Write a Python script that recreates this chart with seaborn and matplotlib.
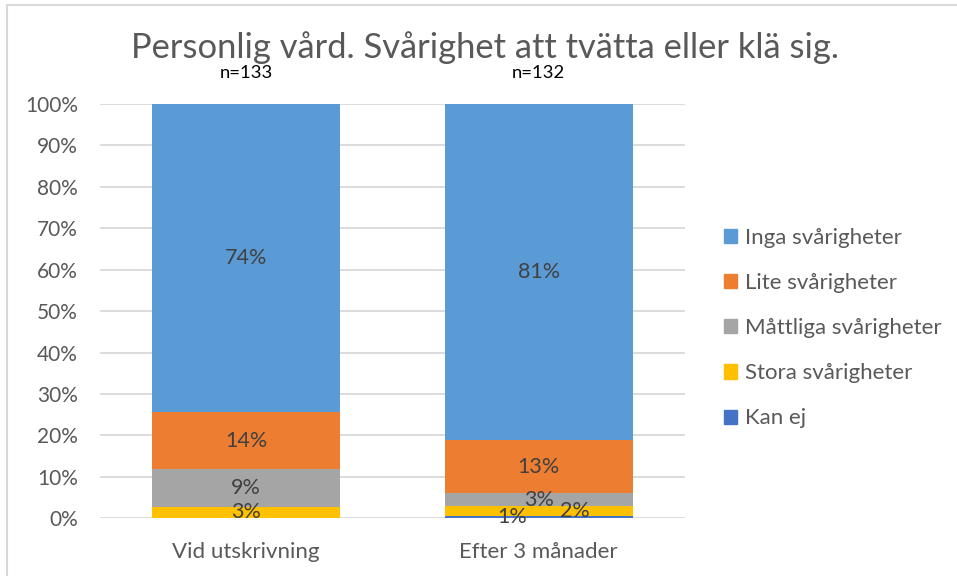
import numpy as np
import pandas as pd
import matplotlib
matplotlib.use("Agg")
import matplotlib.pyplot as plt
import matplotlib.patches as mpatches
from matplotlib.ticker import PercentFormatter
import seaborn as sns

# Data (andel i procent per kategori)
kategorier = ["Vid utskrivning", "Efter 3 månader"]
antal = ["n=133", "n=132"]
serier = ["Kan ej", "Stora svårigheter", "Måttliga svårigheter",
          "Lite svårigheter", "Inga svårigheter"]
kan_ej = [0.0, 0.6]
stora = [2.8, 2.4]
mattliga = [9.1, 3.0]
lite = [13.7, 12.9]
inga = [74.4, 81.1]
farger = ["#4472C4", "#FFC000", "#A5A5A5", "#ED7D31", "#5B9BD5"]

sns.set_theme(style="white")
plt.rcParams["font.family"] = ["Lato", "DejaVu Sans"]

fig = plt.figure(figsize=(9.57, 5.76), dpi=100)
ax = fig.add_axes([100 / 957, 57.7 / 576, 585 / 957, 414.3 / 576])

varden = [kan_ej, stora, mattliga, lite, inga]
botten = np.zeros(len(kategorier))
# etikett-förskjutning (punkter) för små segment som annars överlappar
forskjut = {(0, 1): -19, (1, 1): 26}
for i, (namn, v, c) in enumerate(zip(serier, varden, farger)):
    v = np.array(v)
    sns.barplot(x=kategorier, y=v, bottom=botten, color=c, saturation=1,
                width=0.643, ax=ax, zorder=3, linewidth=0)
    for j in range(len(kategorier)):
        if v[j] <= 0:
            continue
        mitt = botten[j] + v[j] / 2
        ax.annotate(f"{v[j]:.0f}%", (j, mitt), xytext=(forskjut.get((i, j), 0), 0),
                    textcoords="offset points", ha="center", va="center",
                    fontsize=15.5, color="#404040", zorder=5)
    botten = botten + v

ax.set_xlim(-0.5, 1.5)
ax.set_ylim(0, 100)
ax.set_yticks(np.arange(0, 101, 10))
ax.yaxis.set_major_formatter(PercentFormatter(decimals=0))
ax.grid(axis="y", color="#D9D9D9", linewidth=1.3, zorder=0)
ax.grid(axis="x", visible=False)
sns.despine(ax=ax, left=True, bottom=True)
ax.tick_params(axis="y", length=0, pad=16, labelsize=15, labelcolor="#595959")
ax.tick_params(axis="x", length=0, pad=17, labelsize=16, labelcolor="#595959")
ax.set_xlabel("")
ax.set_ylabel("")

# n över staplarna
for j, t in enumerate(antal):
    ax.annotate(t, (j, 100), xytext=(0, 22), textcoords="offset points",
                ha="center", va="center", fontsize=13.3, color="black")

fig.text(485 / 957, 1 - 48 / 576, "Personlig vård. Svårighet att tvätta eller klä sig.",
         ha="center", va="center", fontsize=24.8, color="#595959")

handtag = [mpatches.Patch(color=c, label=n) for n, c in zip(serier, farger)][::-1]
fig.legend(handles=handtag, loc="upper left", bbox_to_anchor=(724 / 957, 1 - 228 / 576),
           frameon=False, fontsize=16, labelcolor="#595959", handlelength=0.6,
           handleheight=0.6, handletextpad=0.35, labelspacing=1.13,
           borderpad=0, borderaxespad=0)

# ram runt diagrammet
fig.patches.append(mpatches.Rectangle((7 / 957, -0.1), 1.2, 1.1 - 5 / 576, fill=False,
                                      edgecolor="#D9D9D9", linewidth=1.5,
                                      transform=fig.transFigure))

fig.savefig("out.png", dpi=100)
